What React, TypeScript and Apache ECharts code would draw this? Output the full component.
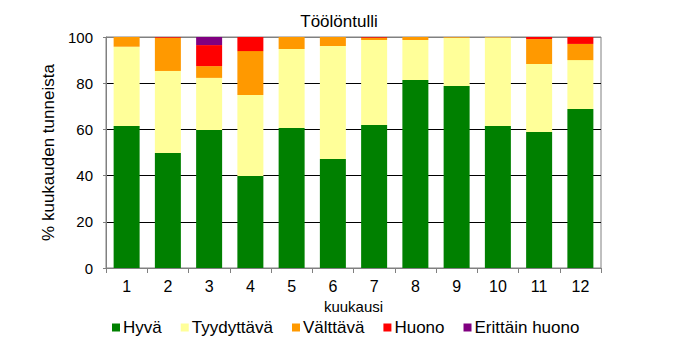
import React, { useEffect, useRef } from "react";
import * as echarts from "echarts";

const months = ["1", "2", "3", "4", "5", "6", "7", "8", "9", "10", "11", "12"];
const hyva = [61.5, 49.8, 59.7, 39.8, 60.6, 47.2, 61.9, 81.4, 78.8, 61.5, 58.9, 68.8];
const tyydyttava = [34.3, 35.5, 22.6, 35.1, 34.2, 48.9, 36.8, 17.3, 20.9, 38.3, 29.4, 21.2];
const valttava = [4.2, 14.4, 5.1, 19.0, 5.2, 3.9, 1.0, 1.3, 0.3, 0.2, 10.8, 7.0];
const huono = [0, 0.3, 9.1, 6.1, 0, 0, 0.3, 0, 0, 0, 0.9, 3.0];
const erittainHuono = [0, 0, 3.5, 0, 0, 0, 0, 0, 0, 0, 0, 0];

const seriesNames = ["Hyvä", "Tyydyttävä", "Välttävä", "Huono", "Erittäin huono"];
const seriesColors = ["#008000", "#FFFF99", "#FF9900", "#FF0000", "#800080"];
const seriesData = [hyva, tyydyttava, valttava, huono, erittainHuono];

const FONT = "'Liberation Sans', Arial, sans-serif";

export default function App() {
  const ref = useRef<HTMLDivElement>(null);
  useEffect(() => {
    if (!ref.current) return;
    const chart = echarts.init(ref.current, undefined, { renderer: "svg" });
    chart.setOption({
      animation: false,
      backgroundColor: "#ffffff",
      title: {
        text: "Töölöntulli",
        left: 334,
        textAlign: "center",
        top: 8,
        textStyle: { fontFamily: FONT, fontSize: 17, fontWeight: "normal", color: "#000" },
      },
      legend: {
        data: seriesNames,
        bottom: 21,
        left: 107,
        itemWidth: 8,
        itemHeight: 8,
        itemGap: 19,
        icon: "rect",
        textStyle: { fontFamily: FONT, fontSize: 17, color: "#000", padding: [0, 0, 0, -2] },
      },
      grid: {
        left: 106,
        right: 86,
        top: 37,
        bottom: 94,
        show: true,
        borderColor: "#808080",
        borderWidth: 1,
      },
      xAxis: {
        type: "category",
        data: months,
        name: "kuukausi",
        nameLocation: "middle",
        nameGap: 23,
        nameTextStyle: { fontFamily: FONT, fontSize: 15, color: "#000" },
        axisLine: { lineStyle: { color: "#808080", width: 1 } },
        axisTick: { show: true, length: 5, lineStyle: { color: "#808080" } },
        axisLabel: { fontFamily: FONT, fontSize: 16, color: "#000", margin: 10 },
      },
      yAxis: {
        type: "value",
        min: 0,
        max: 100,
        interval: 20,
        name: "% kuukauden tunneista",
        nameLocation: "middle",
        nameGap: 38,
        nameTextStyle: { fontFamily: FONT, fontSize: 17, color: "#000" },
        axisLine: { show: true, lineStyle: { color: "#808080", width: 1 } },
        axisTick: { show: true, length: 3, lineStyle: { color: "#808080" } },
        axisLabel: { fontFamily: FONT, fontSize: 15, color: "#000", margin: 13 },
        splitLine: {
          show: true,
          lineStyle: {
            color: ["#808080", "#000", "#000", "#000", "#000", "#808080"],
            width: 1,
          },
        },
      },
      series: seriesNames.map((name, i) => ({
        name,
        type: "bar",
        stack: "total",
        barWidth: 26,
        data: seriesData[i],
        itemStyle: { color: seriesColors[i] },
      })),
    });
    return () => chart.dispose();
  }, []);
  return (
    <div
      ref={ref}
      style={{ position: "fixed", left: 0, top: 0, width: 687, height: 362 }}
    />
  );
}
